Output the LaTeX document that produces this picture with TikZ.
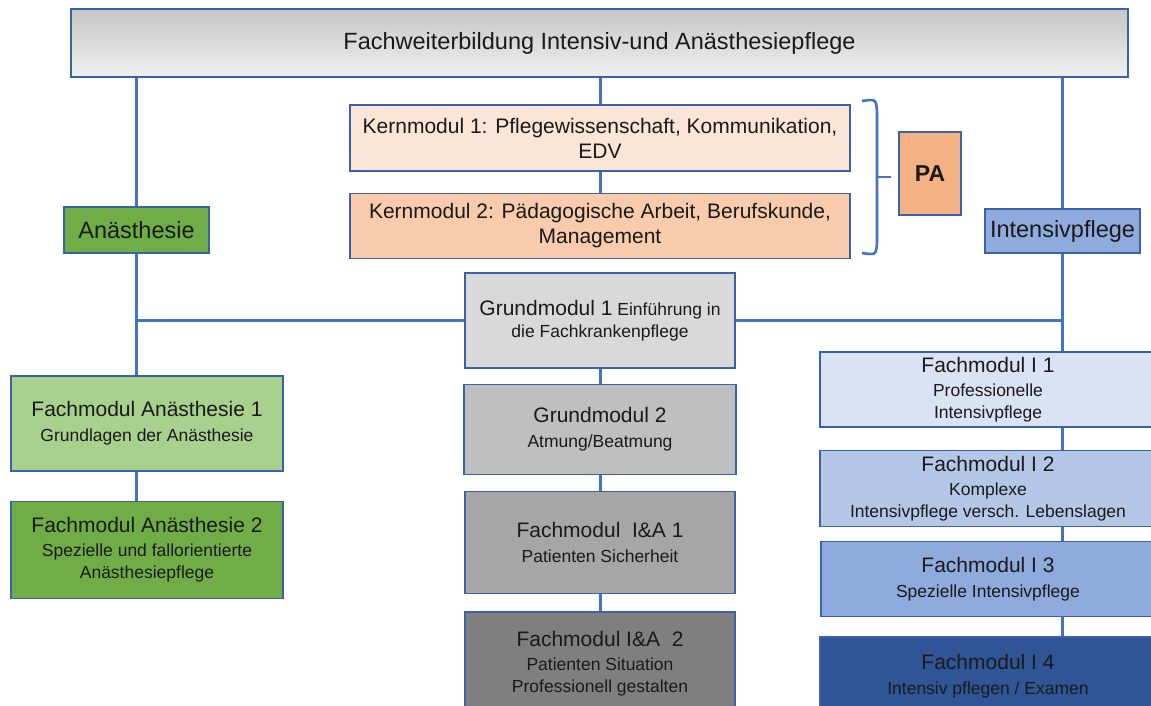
\documentclass[tikz,border=0pt]{standalone}
\usepackage{fontspec}
\setmainfont{Liberation Sans}
\usepackage{tikz}
\usetikzlibrary{positioning}

\definecolor{linkblue}{HTML}{4472C4}
\definecolor{frame}{HTML}{3A62A8}
\definecolor{ink}{HTML}{1A1A1A}
\definecolor{titletop}{HTML}{C6C6C6}
\definecolor{titlebot}{HTML}{F0F0F0}
\definecolor{kernA}{HTML}{FBE5D6}
\definecolor{kernB}{HTML}{F8CBAD}
\definecolor{paorange}{HTML}{F4B183}
\definecolor{anaegreen}{HTML}{70AD47}
\definecolor{anaelight}{HTML}{A9D18E}
\definecolor{intblue}{HTML}{8FAADC}
\definecolor{intA}{HTML}{DAE3F3}
\definecolor{intB}{HTML}{B4C7E7}
\definecolor{intD}{HTML}{2F5597}
\definecolor{greyA}{HTML}{D9D9D9}
\definecolor{greyB}{HTML}{BFBFBF}
\definecolor{greyC}{HTML}{A6A6A6}
\definecolor{greyD}{HTML}{7F7F7F}

\newcommand{\modname}[1]{{\fontsize{21}{25}\selectfont #1}}

\begin{document}
\begin{tikzpicture}[
  x=1pt, y=-1pt,
  box/.style={draw=frame, line width=1.3pt, inner sep=0pt, align=center, text=ink,
    font=\fontsize{17.5}{22}\selectfont},
  head/.style={box, font=\fontsize{23.5}{28}\selectfont},
  kern/.style={box, minimum width=500pt, font=\fontsize{21}{25}\selectfont},
  link/.style={draw=linkblue, line width=3pt},
  bracket/.style={draw=linkblue, line width=2.6pt}
]
\useasboundingbox (0,0) rectangle (1151,706);

% top row
\node[head, top color=titletop, bottom color=titlebot, minimum width=1057pt, minimum height=68pt] (fwb) at (599.5,43) {Fachweiterbildung Intensiv-und Anästhesiepflege};
\node[kern, fill=kernA, minimum height=66pt] (km1) at (600,138) {Kernmodul 1: Pflegewissenschaft, Kommunikation,\\EDV};
\node[kern, fill=kernB, minimum height=65pt, below=21pt of km1] (km2) {Kernmodul 2: Pädagogische Arbeit, Berufskunde,\\Management};
\node[box, fill=paorange, minimum width=62pt, minimum height=83pt, font=\fontsize{23}{28}\selectfont\bfseries] (pa) at (930,173.5) {PA};
\node[head, fill=anaegreen, minimum width=145pt, minimum height=46pt] (anae) at (136.5,230) {Anästhesie};
\node[head, fill=intblue, minimum width=155pt, minimum height=44pt] (int) at (1062.5,231) {Intensivpflege};

% middle column
\node[box, fill=greyA, minimum width=270pt, minimum height=95pt] (gm1) at (600,320.5) {\modname{Grundmodul 1} Einführung in\\die Fachkrankenpflege};
\node[box, fill=greyB, minimum width=272pt, minimum height=90pt, below=15pt of gm1] (gm2) {\modname{Grundmodul 2}\\[3pt]Atmung/Beatmung};
\node[box, fill=greyC, minimum width=270pt, minimum height=102pt, below=16pt of gm2] (fia1) {\modname{Fachmodul~ I\&A 1}\\[3pt]Patienten Sicherheit};
\node[box, fill=greyD, minimum width=270pt, minimum height=104pt, below=17pt of fia1] (fia2) {\modname{Fachmodul I\&A~ 2}\\[2pt]Patienten Situation\\Professionell gestalten};

% left column
\node[box, fill=anaelight, minimum width=272pt, minimum height=95pt] (fa1) at (147,423.5) {\modname{Fachmodul Anästhesie 1}\\[3pt]Grundlagen der Anästhesie};
\node[box, fill=anaegreen, minimum width=272pt, minimum height=97pt, below=29pt of fa1] (fa2) {\modname{Fachmodul Anästhesie 2}\\[2pt]Spezielle und fallorientierte\\Anästhesiepflege};

% right column
\node[box, fill=intA, minimum width=336pt, minimum height=75pt] (fi1) at (988,389.5) {\modname{Fachmodul I 1}\\[2pt]Professionelle\\Intensivpflege};
\node[box, fill=intB, minimum width=336pt, minimum height=76pt, below=22pt of fi1] (fi2) {\modname{Fachmodul I 2}\\[2pt]Komplexe\\Intensivpflege versch. Lebenslagen};
\node[box, fill=intblue, minimum width=334pt, minimum height=75pt, below=14pt of fi2] (fi3) {\modname{Fachmodul I 3}\\[3pt]Spezielle Intensivpflege};
\node[box, fill=intD, minimum width=336pt, minimum height=79pt, below=19pt of fi3] (fi4) {\modname{Fachmodul I 4}\\[3pt]Intensiv pflegen / Examen};

% connectors
\draw[link] (km1.north |- fwb.south) -- (km1.north);
\draw[link] (km1.south) -- (km2.north);
\draw[link] (anae.north |- fwb.south) -- (anae.north);
\draw[link] (int.north |- fwb.south) -- (int.north);
\draw[link] (anae.south) -- (anae.south |- fa1.north);
\draw[link] (fa1.south -| anae.south) -- (fa2.north -| anae.south);
\draw[link] (gm1.west) -- (gm1.west -| anae.south);
\draw[link] (gm1.east) -- (gm1.east -| int.south);
\draw[link] (int.south) -- (int.south |- fi1.north);
\draw[link] (fi1.south -| int.south) -- (fi2.north -| int.south);
\draw[link] (fi2.south -| int.south) -- (fi3.north -| int.south);
\draw[link] (fi3.south -| int.south) -- (fi4.north -| int.south);
\draw[link] (gm1.south) -- (gm1.south |- gm2.north);
\draw[link] (gm2.south -| gm1.south) -- (fia1.north);
\draw[link] (fia1.south) -- (fia2.north);

% brace round the core modules
\draw[bracket] (862,101) .. controls (876,99) .. (877,112) -- (877,243) .. controls (876,255) .. (862,253);
\draw[bracket] (877,177) -- (891,177);
\end{tikzpicture}
\end{document}
